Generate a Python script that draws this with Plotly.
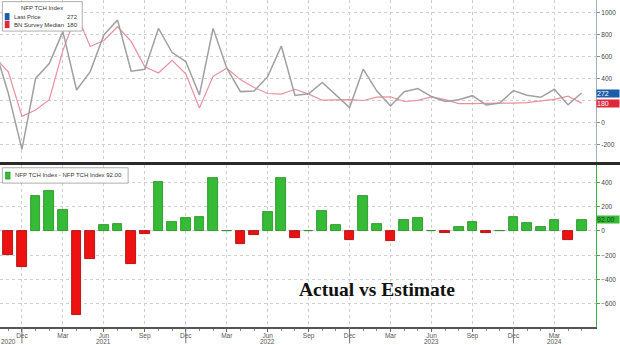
import plotly.graph_objects as go
from plotly.subplots import make_subplots
import pandas as pd

# ---------------- data ----------------
months = pd.date_range("2020-10-01", "2024-05-01", freq="MS")
actual = [680, 270, -240, 405, 540, 830, 300, 467, 800, 936, 470, 488, 860, 640, 558,
          255, 860, 500, 285, 290, 421, 700, 250, 265, 368, 258, 140,
          490, 290, 155, 284, 312, 240, 195, 212, 248, 163, 182, 294,
          252, 233, 306, 165, 272]
survey = [600, 465, 60, 118, 212, 660, 990, 695, 750, 875, 742, 510, 454, 570, 447,
          136, 424, 498, 394, 323, 268, 262, 306, 262, 207, 208, 212,
          204, 234, 238, 195, 206, 237, 212, 176, 176, 180, 180, 180,
          185, 200, 214, 243, 180]
diff = [a - s for a, s in zip(actual, survey)]
top_ticks = [-200, 0, 200, 400, 600, 800, 1000]
top_tick_text = ["-200", "0", "", "400", "600", "800", "1000"]  # 200 hidden behind value tags
bot_ticks = [-600, -400, -200, 0, 200, 400]

# ---------------- helpers ----------------
idx = list(range(len(months)))
tick_idx = [i for i, m in enumerate(months) if m.month in (3, 6, 9, 12)]
tick_txt = [months[i].strftime("%b") for i in tick_idx]
dec_idx = [i for i, m in enumerate(months) if m.month == 12]
year_pos = {}
for i, m in enumerate(months):
    year_pos.setdefault(m.year, []).append(i)

GRID = "#cfcfcf"
FONT = "Liberation Sans"

fig = make_subplots(rows=2, cols=1, shared_xaxes=True)

fig.add_trace(go.Scatter(x=idx, y=survey, mode="lines", name="BN Survey Median",
                         line=dict(color="#e8909c", width=1.2)), row=1, col=1)
fig.add_trace(go.Scatter(x=idx, y=actual, mode="lines", name="Last Price",
                         line=dict(color="#a0a0a0", width=1.5)), row=1, col=1)

bar_fill = ["#36bb36" if d >= 0 else "#ee1111" for d in diff]
bar_line = ["#1f8a1f" if d >= 0 else "#a00000" for d in diff]
fig.add_trace(go.Bar(x=idx, y=diff, width=0.71, name="diff",
                     marker=dict(color=bar_fill, line=dict(color=bar_line, width=0.8))),
              row=2, col=1)

xr = [0.392, 44.05]
common_x = dict(range=xr, tickmode="array", tickvals=tick_idx, showgrid=True,
                gridcolor=GRID, griddash="dot", gridwidth=1, zeroline=False)
fig.update_layout(
    width=620, height=345,
    margin=dict(l=0, r=24, t=0, b=18),
    paper_bgcolor="white", plot_bgcolor="white",
    showlegend=False, bargap=0,
    font=dict(family=FONT, size=7, color="#444"),
    xaxis=dict(**common_x, showticklabels=False, ticks="", showline=False),
    xaxis2=dict(**common_x, ticktext=tick_txt, ticks="outside", ticklen=3,
                tickcolor="#666", showline=True, linecolor="#555", linewidth=1.5,
                ticklabelstandoff=-2,
                tickfont=dict(size=6.5, color="#555"),
                minor=dict(tickvals=idx, ticks="outside", ticklen=2, tickcolor="#888",
                           showgrid=False)),
    yaxis=dict(domain=[0.5046, 1], range=[-355, 1118], side="right",
               tickmode="array", tickvals=top_ticks, ticktext=top_tick_text,
               showgrid=True, gridcolor=GRID, griddash="dot",
               zeroline=False, ticks="outside", ticklen=3, tickcolor="#7f93a8",
               showline=True, linecolor="#9fb0c0", linewidth=1,
               tickfont=dict(size=6.5, color="#444")),
    yaxis2=dict(domain=[0, 0.4954], range=[-790, 543], side="right",
                tickvals=bot_ticks, showgrid=True, gridcolor=GRID, griddash="dot",
                zeroline=False, ticks="outside", ticklen=3, tickcolor="#3cb043",
                showline=True, linecolor="#3cb043", linewidth=1,
                tickfont=dict(size=6.5, color="#444")),
)

shapes = []
# panel separator
shapes.append(dict(type="line", xref="paper", yref="paper", x0=0, x1=1.05,
                   y0=0.5, y1=0.5, line=dict(color="#2a2a2a", width=3), layer="above"))
# year separators below axis
for i in dec_idx:
    shapes.append(dict(type="line", xref="x2", yref="paper", x0=i, x1=i, y0=0, y1=-0.05,
                       line=dict(color="#777", width=1)))
# top legend box
shapes.append(dict(type="rect", xref="paper", yref="paper", x0=0.004, x1=0.138,
                   y0=0.905, y1=0.995, fillcolor="white",
                   line=dict(color="#999", width=0.8), layer="above"))
shapes.append(dict(type="rect", xref="paper", yref="paper", x0=0.008, x1=0.016,
                   y0=0.938, y1=0.960, fillcolor="#1d5ca8", line=dict(width=0),
                   layer="above"))
shapes.append(dict(type="rect", xref="paper", yref="paper", x0=0.008, x1=0.016,
                   y0=0.914, y1=0.936, fillcolor="#e0283c", line=dict(width=0),
                   layer="above"))
# bottom legend box
shapes.append(dict(type="rect", xref="paper", yref="paper", x0=0.004, x1=0.215,
                   y0=0.440, y1=0.487, fillcolor="white",
                   line=dict(color="#999", width=0.8), layer="above"))
shapes.append(dict(type="rect", xref="paper", yref="paper", x0=0.009, x1=0.017,
                   y0=0.452, y1=0.474, fillcolor="#36bb36",
                   line=dict(color="#1f8a1f", width=0.5), layer="above"))
fig.update_layout(shapes=shapes)

ann = []
lf = dict(family=FONT, size=6, color="#333")
ann.append(dict(xref="paper", yref="paper", x=0.071, y=0.976, text="NFP TCH Index",
                showarrow=False, font=lf, xanchor="center", yanchor="middle"))
ann.append(dict(xref="paper", yref="paper", x=0.020, y=0.949, text="Last Price",
                showarrow=False, font=lf, xanchor="left", yanchor="middle"))
ann.append(dict(xref="paper", yref="paper", x=0.134, y=0.949, text=f"{actual[-1]}",
                showarrow=False, font=lf, xanchor="right", yanchor="middle"))
ann.append(dict(xref="paper", yref="paper", x=0.020, y=0.925, text="BN Survey Median",
                showarrow=False, font=lf, xanchor="left", yanchor="middle"))
ann.append(dict(xref="paper", yref="paper", x=0.134, y=0.925, text=f"{survey[-1]}",
                showarrow=False, font=lf, xanchor="right", yanchor="middle"))
ann.append(dict(xref="paper", yref="paper", x=0.021, y=0.4635,
                text=f"NFP TCH Index - NFP TCH Index {diff[-1]:.2f}",
                showarrow=False, font=lf, xanchor="left", yanchor="middle"))
# right value tags
ann.append(dict(xref="paper", yref="y", x=1.0, y=actual[-1], text=f"{actual[-1]}",
                showarrow=False, xanchor="left", yanchor="middle", bgcolor="#1d5ca8",
                font=dict(family=FONT, size=7, color="white"), width=22, align="left",
                borderpad=0))
ann.append(dict(xref="paper", yref="y", x=1.0, y=survey[-1], text=f"{survey[-1]}",
                showarrow=False, xanchor="left", yanchor="middle", bgcolor="#e0283c",
                font=dict(family=FONT, size=7, color="white"), width=22, align="left",
                borderpad=0))
ann.append(dict(xref="paper", yref="y2", x=1.0, y=diff[-1], text=f"{diff[-1]:.2f}",
                showarrow=False, xanchor="left", yanchor="middle", bgcolor="#36bb36",
                font=dict(family=FONT, size=7, color="#1a3a1a"), width=22, align="left",
                borderpad=0))
# year labels
for yr, pos in year_pos.items():
    if yr == 2020:
        xpos = 1
    elif 6 in [months[p].month for p in pos]:
        xpos = [p for p in pos if months[p].month == 6][0]
    else:
        xpos = [p for p in pos if months[p].month == 3][0]
    ann.append(dict(xref="x2", yref="paper", x=xpos, y=0, yshift=-14.5, text=str(yr),
                    showarrow=False, font=dict(family=FONT, size=6.5, color="#555"),
                    xanchor="center", yanchor="middle"))
# title text
ann.append(dict(xref="paper", yref="paper", x=0.633, y=0.115, text="<b>Actual vs Estimate</b>",
                showarrow=False, font=dict(family="Liberation Serif", size=19.5, color="#111"),
                xanchor="center", yanchor="middle"))
fig.update_layout(annotations=ann)

fig.write_html("out.html")
